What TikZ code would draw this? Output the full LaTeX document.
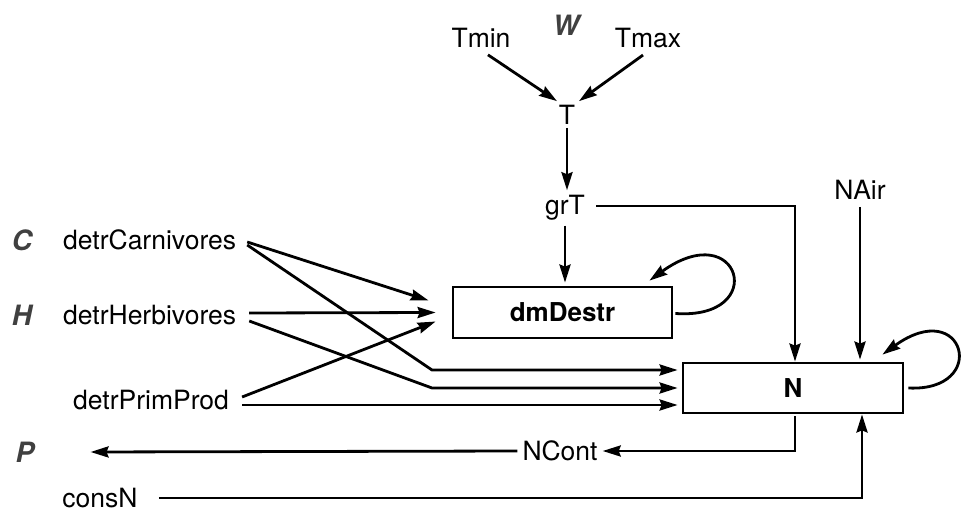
\documentclass[tikz,border=0pt]{standalone}
\usepackage{fontspec}
\setmainfont{TeX Gyre Heros}
\usetikzlibrary{arrows.meta,calc}
\begin{document}
\begin{tikzpicture}[x=1pt,y=-1pt,
  lbl/.style={font=\fontsize{26.5}{30}\selectfont, inner sep=1pt},
  sect/.style={font=\fontsize{28}{30}\selectfont\bfseries\itshape, text=black!75, inner sep=1pt},
  box/.style={draw, line width=2.8pt, font=\fontsize{26}{28}\selectfont\bfseries, inner sep=0pt},
  arr/.style={line width=2.8pt, -{Stealth[length=18pt,width=11pt,inset=2pt]}},
  ln/.style={line width=2.8pt}]
\useasboundingbox (0,0) rectangle (966,518);
% nodes
\node[sect] (W) at (566,25) {W};
\node[lbl] (Tmin) at (481,38) {Tmin};
\node[lbl] (Tmax) at (648,38) {Tmax};
\node[lbl] (T) at (567,115) {T};
\node[lbl] (grT) at (565,208) {grT};
\node[lbl] (NAir) at (860,190) {NAir};
\node[box, minimum width=219pt, minimum height=51pt] (dm) at (562.5,312.5) {dmDestr};
\node[box, minimum width=220pt, minimum height=50pt] (N) at (793,388) {N};
\node[sect] (C) at (22,240) {C};
\node[sect] (H) at (22,315) {H};
\node[sect] (P) at (25,452) {P};
\node[lbl, anchor=west] (carn) at (62,240) {detrCarnivores};
\node[lbl, anchor=west] (herb) at (62,315) {detrHerbivores};
\node[lbl, anchor=west] (prim) at (72,400) {detrPrimProd};
\node[lbl] (NCont) at (560,451) {NCont};
\node[lbl] (consN) at (100,498) {consN};
% connectors
\draw[arr] ($(Tmin.south)+(7,6)$) -- ($(T.north)+(-10,-3)$);
\draw[arr] ($(Tmax.south)+(-5,6)$) -- ($(T.north)+(12,-3)$);
\draw[arr] ($(T.south)+(0,2)$) -- ($(grT.north)+(2,-4)$);
\draw[arr] ($(grT.south)+(0,4)$) -- ($(dm.north)+(2.5,-3)$);
\draw[arr] ($(grT.east)+(10,-2)$) -- (795,206) -- (N.north -| 795,0);
\draw[arr] ($(NAir.south)+(0,6)$) -- ($(N.north)+(67,-2)$);
% into dmDestr
\draw[arr] ($(carn.east)+(10,2)$) -- ($(dm.west)+(-23,-12)$);
\draw[arr] ($(herb.east)+(12,-2)$) -- ($(dm.west)+(-16,0)$);
\draw[arr] ($(prim.east)+(12,-3)$) -- ($(dm.west)+(-16,9)$);
% into N
\draw[arr] ($(carn.east)+(10,5)$) -- (432,370) -- ($(N.west)+(-4,-18)$);
\draw[arr] ($(herb.east)+(12,6)$) -- (432,388) -- ($(N.west)+(-4,0)$);
\draw[arr] ($(prim.east)+(12,5)$) -- ($(N.west)+(-4,17)$);
% self loops
\draw[arr] ($(dm.east)+(2,1)$) .. controls (770,320) and (740,215) .. ($(dm.north east)+(-24,-5)$);
\draw[arr] ($(N.east)+(4,0)$) .. controls (990,392) and (965,295) .. ($(N.north east)+(-22,-7)$);
% outputs
\draw[arr] (795,416) -- (795,451) -- ($(NCont.east)+(4,0)$);
\draw[arr] ($(NCont.west)+(-4,0)$) -- ($(P.east)+(55,0)$);
\draw[arr] ($(consN.east)+(20,0)$) -- (862,498) -- (N.south -| 862,0);
\end{tikzpicture}
\end{document}
